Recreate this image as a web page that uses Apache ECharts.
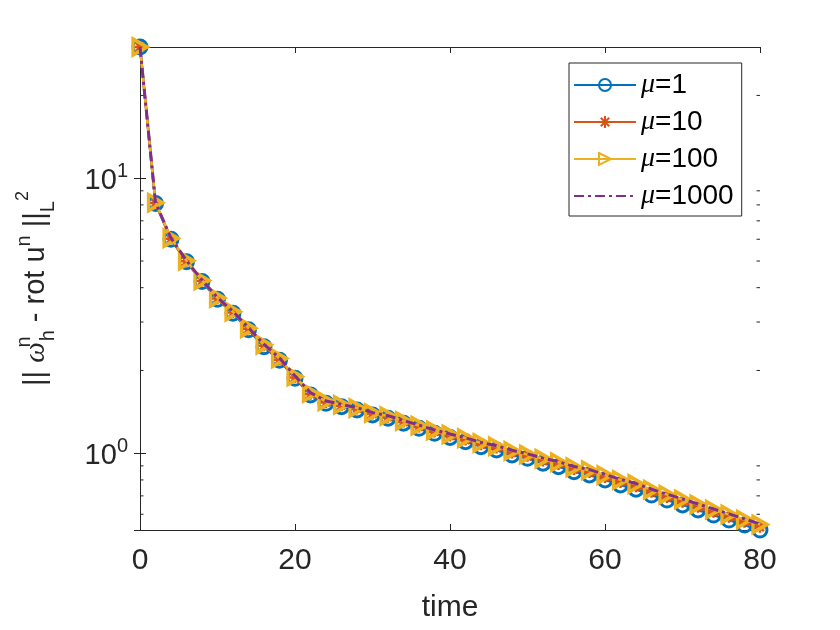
<!DOCTYPE html>
<html>
<head>
<meta charset="utf-8">
<script src="https://cdn.jsdelivr.net/npm/echarts@6/dist/echarts.min.js"></script>
<style>
html,body{margin:0;padding:0;background:#fff}
#main{width:840px;height:630px}
</style>
</head>
<body>
<div id="main"></div>
<script>
// time steps (x)
var timeData = [0,2,4,6,8,10,12,14,16,18,20,22,24,26,28,30,32,34,36,38,40,
                42,44,46,48,50,52,54,56,58,60,62,64,66,68,70,72,74,76,78,80];
// error values per mu
var mu1 = [30.0,8.1,6.0,4.97,4.21,3.63,3.23,2.81,2.44,2.18,1.874,1.629,1.52,1.477,1.437,1.378,
           1.341,1.286,1.233,1.182,1.142,1.102,1.057,1.028,0.986,0.959,0.92,0.894,0.857,0.834,
           0.80,0.767,0.74,0.705,0.676,0.649,0.622,0.596,0.572,0.548,0.526];
var mu10 = [30.0,8.12,6.02,4.99,4.23,3.65,3.25,2.83,2.46,2.19,1.885,1.64,1.53,1.49,1.45,1.39,
            1.353,1.298,1.247,1.196,1.156,1.118,1.073,1.044,1.003,0.975,0.937,0.911,0.873,0.851,
            0.816,0.783,0.756,0.721,0.691,0.664,0.636,0.61,0.585,0.561,0.538];
var mu100 = [30.0,8.15,6.05,5.01,4.25,3.67,3.27,2.85,2.48,2.21,1.90,1.655,1.545,1.50,1.46,1.40,
             1.365,1.31,1.26,1.21,1.17,1.135,1.09,1.06,1.02,0.99,0.955,0.928,0.89,0.868,
             0.833,0.80,0.773,0.737,0.707,0.679,0.651,0.624,0.599,0.574,0.551];
var mu1000 = [30.0,8.16,6.06,5.02,4.26,3.68,3.28,2.86,2.49,2.22,1.91,1.66,1.55,1.505,1.465,1.405,
              1.37,1.315,1.265,1.215,1.175,1.138,1.095,1.065,1.025,0.995,0.96,0.932,0.895,0.872,
              0.837,0.804,0.776,0.74,0.71,0.682,0.654,0.627,0.602,0.577,0.553];
var seriesNames = ['μ=1','μ=10','μ=100','μ=1000'];
// minor ticks of the log axis
var minorTicks = [0.6,0.7,0.8,0.9,2,3,4,5,6,7,8,9,20];

var xMin = 0, xMax = 80, yMin = 0.526, yMax = 30;
var axisColor = '#262626';
var font = 'Liberation Sans';

function pairs(arr) {
    var out = [];
    for (var i = 0; i < timeData.length; i++) out.push([timeData[i], arr[i]]);
    return out;
}

function logLabel(v) {
    var e = Math.round(Math.log10(v));
    if (Math.abs(Math.log10(v) - e) > 1e-6) return '';
    return '{b|10}{s|' + e + '}';
}

var myChart = echarts.init(document.getElementById('main'));
var option = {
    backgroundColor: '#fff',
    animation: false,
    grid: { left: 140, right: 80, top: 47, bottom: 100 },
    legend: {
        data: seriesNames,
        orient: 'vertical',
        left: 569,
        top: 63,
        padding: [8, 8, 6, 4],
        itemGap: 9,
        itemWidth: 62,
        itemHeight: 15,
        borderColor: axisColor,
        borderWidth: 1,
        backgroundColor: '#fff',
        formatter: function (name) {
            return '{m|μ}{n|' + name.slice(1) + '}';
        },
        textStyle: {
            rich: {
                m: { fontFamily: 'Liberation Serif', fontStyle: 'italic', fontSize: 28, color: '#000' },
                n: { fontFamily: font, fontSize: 28, color: '#000' }
            }
        }
    },
    xAxis: [
        {
            type: 'value', min: xMin, max: xMax, interval: 20,
            name: 'time', nameLocation: 'middle', nameGap: 63,
            nameTextStyle: { fontFamily: font, fontSize: 30, color: axisColor },
            axisLine: { lineStyle: { color: axisColor, width: 1 } },
            axisTick: { inside: true, length: 6, lineStyle: { color: axisColor } },
            axisLabel: { margin: 16, fontFamily: font, fontSize: 30, color: axisColor },
            splitLine: { show: false }
        },
        {
            type: 'value', min: xMin, max: xMax, interval: 20, position: 'top',
            axisLine: { lineStyle: { color: axisColor, width: 1 } },
            axisTick: { inside: true, length: 6, lineStyle: { color: axisColor } },
            axisLabel: { show: false },
            splitLine: { show: false }
        }
    ],
    yAxis: [
        {
            type: 'log', logBase: 10, min: yMin, max: yMax,
            name: '{t||| }{w|ω}{n0|n}{h|h}{t| - rot u}{n|n}{t| ||}{l|L}{two|2}',
            nameLocation: 'middle', nameRotate: 90, nameGap: 82,
            nameTextStyle: {
                color: axisColor,
                rich: {
                    t: { fontFamily: font, fontSize: 29, lineHeight: 44, color: axisColor },
                    w: { fontFamily: 'Liberation Serif', fontStyle: 'italic', fontSize: 29, lineHeight: 44, color: axisColor },
                    n0: { fontFamily: font, fontSize: 20, lineHeight: 22, verticalAlign: 'top', width: 1, color: axisColor },
                    h: { fontFamily: font, fontSize: 20, lineHeight: 22, verticalAlign: 'bottom', color: axisColor },
                    n: { fontFamily: font, fontSize: 20, lineHeight: 22, verticalAlign: 'top', color: axisColor },
                    l: { fontFamily: font, fontSize: 20, lineHeight: 20, verticalAlign: 'bottom', color: axisColor },
                    two: { fontFamily: font, fontSize: 18, lineHeight: 26, verticalAlign: 'top', color: axisColor }
                }
            },
            axisLine: { show: true, lineStyle: { color: axisColor, width: 1 } },
            axisTick: { inside: true, length: 6, lineStyle: { color: axisColor } },
            axisLabel: {
                margin: 12, showMinLabel: false, showMaxLabel: false,
                formatter: logLabel,
                rich: {
                    b: { fontFamily: font, fontSize: 29, color: axisColor, lineHeight: 34, verticalAlign: 'bottom' },
                    s: { fontFamily: font, fontSize: 20, color: axisColor, lineHeight: 34, verticalAlign: 'top' }
                }
            },
            splitLine: { show: false }
        },
        {
            type: 'log', logBase: 10, min: yMin, max: yMax, position: 'right',
            axisLine: { show: true, lineStyle: { color: axisColor, width: 1 } },
            axisTick: { inside: true, length: 6, lineStyle: { color: axisColor } },
            axisLabel: { show: false },
            splitLine: { show: false }
        }
    ],
    series: [
        {
            name: 'μ=1', type: 'line', data: pairs(mu1), clip: false, z: 2,
            symbol: 'circle', symbolSize: 14,
            lineStyle: { color: '#0072BD', width: 2.5 },
            itemStyle: { color: 'rgba(0,0,0,0)', borderColor: '#0072BD', borderWidth: 3 }
        },
        {
            name: 'μ=10', type: 'line', data: pairs(mu10), clip: false, z: 3,
            symbol: 'path://M0,5L10,5M5,0L5,10M1.5,1.5L8.5,8.5M8.5,1.5L1.5,8.5', symbolSize: 11,
            lineStyle: { color: '#D95319', width: 2.5 },
            itemStyle: { color: '#D95319', borderColor: '#D95319', borderWidth: 2.5 }
        },
        {
            name: 'μ=100', type: 'line', data: pairs(mu100), clip: false, z: 4,
            symbol: 'path://M0,0L10,5L0,10Z', symbolSize: [14, 16],
            lineStyle: { color: '#EDB120', width: 2.5 },
            itemStyle: { color: 'rgba(0,0,0,0)', borderColor: '#EDB120', borderWidth: 3.5 }
        },
        {
            name: 'μ=1000', type: 'line', data: pairs(mu1000), clip: false, z: 5,
            symbol: 'rect', showSymbol: false,
            lineStyle: { color: '#7E2F8E', width: 3, type: [10, 4, 3, 4] },
            itemStyle: { color: 'rgba(0,0,0,0)', borderWidth: 0 }
        },
        {
            name: 'minor', type: 'custom', silent: true, clip: false, z: 6,
            data: minorTicks.map(function (v) { return [xMin, v]; }),
            renderItem: function (params, api) {
                var l = api.coord([xMin, api.value(1)]);
                var r = api.coord([xMax, api.value(1)]);
                var st = { stroke: axisColor, lineWidth: 1 };
                return {
                    type: 'group',
                    children: [
                        { type: 'line', shape: { x1: l[0], y1: l[1], x2: l[0] + 3.5, y2: l[1] }, style: st },
                        { type: 'line', shape: { x1: r[0] - 3.5, y1: r[1], x2: r[0], y2: r[1] }, style: st }
                    ]
                };
            }
        }
    ]
};
myChart.setOption(option);
</script>
</body>
</html>
